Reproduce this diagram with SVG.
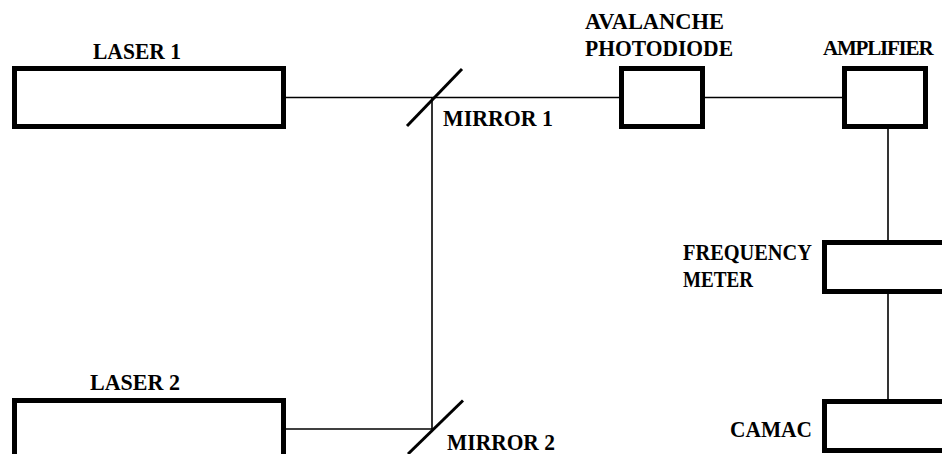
<svg xmlns="http://www.w3.org/2000/svg" width="942" height="454" viewBox="0 0 942 454">
<style>
.box{fill:#fff;stroke:#000;stroke-width:5}
.ln{stroke:#000;stroke-width:1.6;fill:none}
.mir{stroke:#000;stroke-width:3;fill:none}
</style>
<rect width="942" height="454" fill="#fff"/>
<g id="connectors">
<line class="ln" x1="286" y1="97.5" x2="619" y2="97.5"/>
<line class="ln" x1="705" y1="97.5" x2="842" y2="97.5"/>
<line class="ln" x1="432" y1="97.5" x2="432" y2="429"/>
<line class="ln" x1="286" y1="429" x2="432" y2="429"/>
<line class="ln" x1="888" y1="129" x2="888" y2="240"/>
<line class="ln" x1="888" y1="294" x2="888" y2="399"/>
</g>
<g font-family="Liberation Serif, DejaVu Serif, serif" font-weight="bold" font-size="23" fill="#000">
<g id="laser1">
<rect class="box" x="14.5" y="68.5" width="269" height="58"/>
<text x="93" y="58.5" textLength="88" lengthAdjust="spacingAndGlyphs">LASER 1</text>
</g>
<g id="laser2">
<rect class="box" x="14.5" y="400.5" width="269" height="100"/>
<text x="90" y="390" textLength="90" lengthAdjust="spacingAndGlyphs">LASER 2</text>
</g>
<g id="mirror1">
<line class="mir" x1="407" y1="126" x2="462" y2="69"/>
<text x="443" y="126" textLength="110" lengthAdjust="spacingAndGlyphs">MIRROR 1</text>
</g>
<g id="mirror2">
<line class="mir" x1="408" y1="454" x2="463" y2="400.5"/>
<text x="447" y="450" textLength="108" lengthAdjust="spacingAndGlyphs">MIRROR 2</text>
</g>
<g id="photodiode">
<rect class="box" x="621.5" y="68.5" width="81" height="58"/>
<text x="585" y="29" textLength="139" lengthAdjust="spacingAndGlyphs">AVALANCHE</text>
<text x="585" y="56" textLength="148" lengthAdjust="spacingAndGlyphs">PHOTODIODE</text>
</g>
<g id="amplifier">
<rect class="box" x="844.5" y="68.5" width="81" height="58"/>
<text x="823" y="55" font-size="21" letter-spacing="-1.2">AMPLIFIER</text>
</g>
<g id="frequency-meter">
<rect class="box" x="824.5" y="242.5" width="200" height="49"/>
<text x="683" y="260" textLength="129" lengthAdjust="spacingAndGlyphs">FREQUENCY</text>
<text x="683" y="287" textLength="70" lengthAdjust="spacingAndGlyphs">METER</text>
</g>
<g id="camac">
<rect class="box" x="824.5" y="401.5" width="200" height="49"/>
<text x="730" y="437" textLength="82" lengthAdjust="spacingAndGlyphs">CAMAC</text>
</g>
</g>
</svg>
